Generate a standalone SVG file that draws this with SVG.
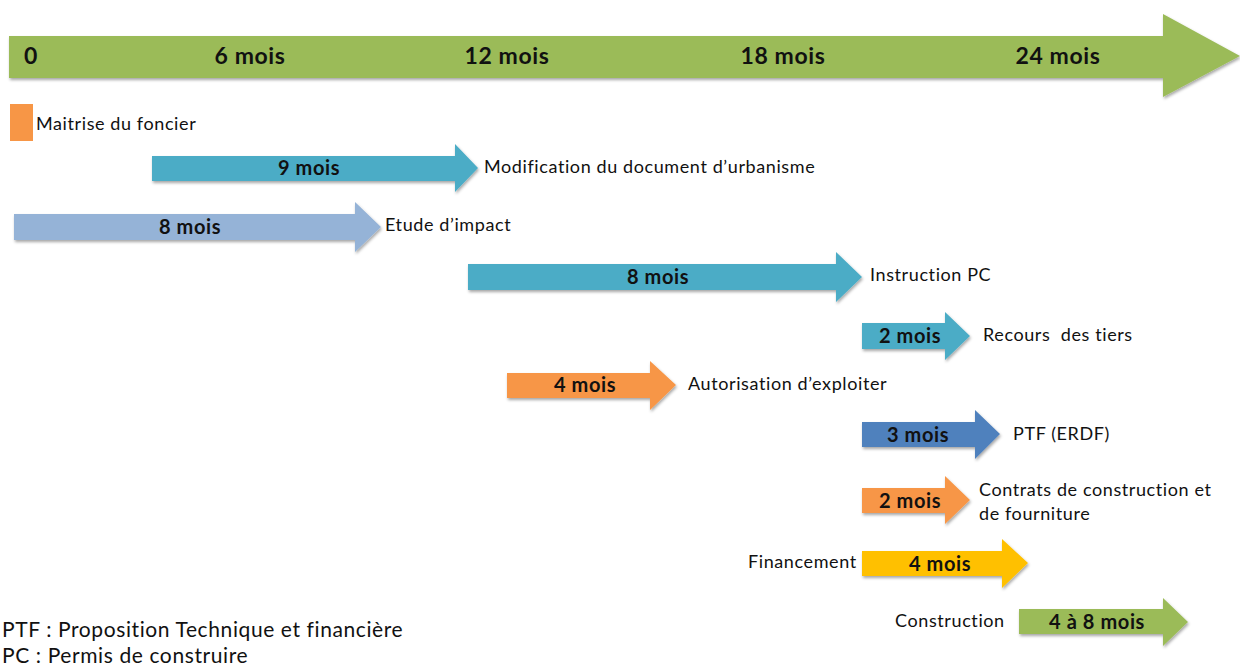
<svg xmlns="http://www.w3.org/2000/svg" width="1240" height="666" viewBox="0 0 1240 666">
<defs>
<filter id="sh" x="-5%" y="-20%" width="110%" height="150%">
<feDropShadow dx="1" dy="2" stdDeviation="1.5" flood-color="#000" flood-opacity="0.35"/>
</filter>
<style>
.lbl{font-family:Lato,"Open Sans","DejaVu Sans",sans-serif;font-weight:bold;font-size:20px;letter-spacing:0.6px;fill:#111;text-anchor:middle}
.txt{font-family:Lato,"Open Sans","DejaVu Sans",sans-serif;font-size:18px;letter-spacing:0.6px;fill:#111;white-space:pre}
.ax{font-family:Lato,"Open Sans","DejaVu Sans",sans-serif;font-weight:bold;font-size:23px;letter-spacing:0.6px;fill:#111;text-anchor:middle}
.foot{font-family:Lato,"Open Sans","DejaVu Sans",sans-serif;font-size:21px;letter-spacing:0.6px;fill:#111}
</style>
</defs>
<g id="axis">
<path d="M9 36 H1163 V14 L1240 56 L1163 97 V78 H9 Z" fill="#9BBB59" filter="url(#sh)"/>
<text class="ax" x="31" y="64">0</text>
<text class="ax" x="250" y="64">6 mois</text>
<text class="ax" x="507" y="64">12 mois</text>
<text class="ax" x="783" y="64">18 mois</text>
<text class="ax" x="1058" y="64">24 mois</text>
</g>
<g id="maitrise">
<rect x="10" y="104" width="23" height="37" fill="#F79646"/>
<text class="txt" x="36" y="130">Maitrise du foncier</text>
</g>
<g id="modification">
<path d="M152 156 H455 V144 L478 168 L455 192 V181 H152 Z" fill="#4BACC6" filter="url(#sh)"/>
<text class="lbl" x="309" y="175">9 mois</text>
<text class="txt" x="484" y="173">Modification du document d’urbanisme</text>
</g>
<g id="etude">
<path d="M14 214 H355 V202 L381 227 L355 252 V240 H14 Z" fill="#95B3D7" filter="url(#sh)"/>
<text class="lbl" x="190" y="234">8 mois</text>
<text class="txt" x="385" y="231">Etude d’impact</text>
</g>
<g id="instruction">
<path d="M468 264 H836 V252 L862 277 L836 302 V290 H468 Z" fill="#4BACC6" filter="url(#sh)"/>
<text class="lbl" x="658" y="284">8 mois</text>
<text class="txt" x="870" y="281">Instruction PC</text>
</g>
<g id="recours">
<path d="M862 323 H945 V312 L970 336 L945 360 V349 H862 Z" fill="#4BACC6" filter="url(#sh)"/>
<text class="lbl" x="910" y="343">2 mois</text>
<text class="txt" x="983" y="341" xml:space="preserve">Recours  des tiers</text>
</g>
<g id="autorisation">
<path d="M507 373 H650 V361 L676 385 L650 410 V398 H507 Z" fill="#F79646" filter="url(#sh)"/>
<text class="lbl" x="585" y="392">4 mois</text>
<text class="txt" x="688" y="390">Autorisation d’exploiter</text>
</g>
<g id="ptf">
<path d="M862 422 H975 V410 L1000 434 L975 459 V447 H862 Z" fill="#4F81BD" filter="url(#sh)"/>
<text class="lbl" x="918" y="442">3 mois</text>
<text class="txt" x="1013" y="440">PTF (ERDF)</text>
</g>
<g id="contrats">
<path d="M862 488 H945 V476 L970 500 L945 524 V513 H862 Z" fill="#F79646" filter="url(#sh)"/>
<text class="lbl" x="910" y="508">2 mois</text>
<text class="txt" x="979" y="496">Contrats de construction et</text>
<text class="txt" x="979" y="520">de fourniture</text>
</g>
<g id="financement">
<path d="M862 551 H1002 V539 L1028 563 L1002 588 V576 H862 Z" fill="#FFC000" filter="url(#sh)"/>
<text class="lbl" x="940" y="571">4 mois</text>
<text class="txt" x="748" y="568">Financement</text>
</g>
<g id="construction">
<path d="M1019 609 H1163 V598 L1188 622 L1163 646 V634 H1019 Z" fill="#9BBB59" filter="url(#sh)"/>
<text class="lbl" x="1097" y="629">4 à 8 mois</text>
<text class="txt" x="895" y="627">Construction</text>
</g>
<g id="legend">
<text class="foot" x="2" y="637">PTF : Proposition Technique et financière</text>
<text class="foot" x="2" y="663">PC : Permis de construire</text>
</g>
<g id="connectors"></g>
</svg>
